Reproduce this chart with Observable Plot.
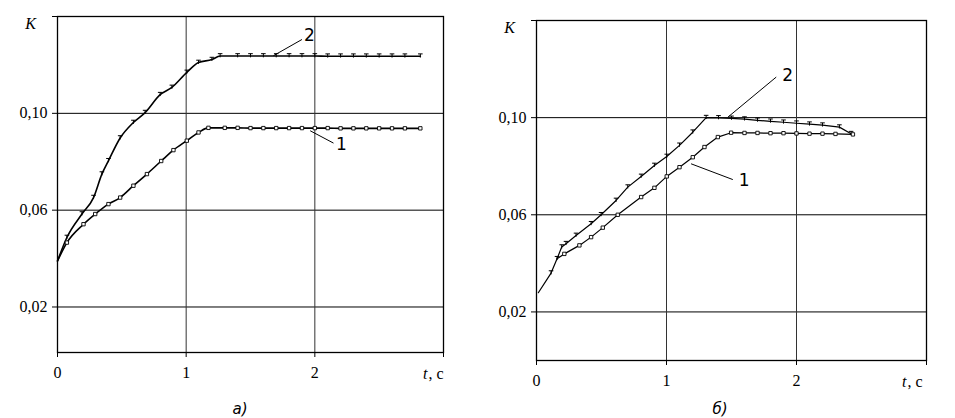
<!DOCTYPE html>
<html>
<head>
<meta charset="utf-8">
<script src="https://cdn.jsdelivr.net/npm/d3@7"></script>
<script src="https://cdn.jsdelivr.net/npm/@observablehq/plot@0.6"></script>
<style>
  body { margin: 0; background: #fff; }
  #wrap { position: relative; width: 955px; height: 418px; background: #fff; overflow: hidden; }
  .panel { position: absolute; top: 0; }
  .cap { position: absolute; top: 400px; font: italic 15px "DejaVu Sans", sans-serif; color: #000; transform: translateX(-50%); }
</style>
</head>
<body>
<div id="wrap">
  <div id="pa" class="panel" style="left:0px"></div>
  <div id="pb" class="panel" style="left:480px"></div>
  <div class="cap" style="left:240px">а)</div>
  <div class="cap" style="left:720px">б)</div>
</div>
<script>
// ---------- shared axis data ----------
const xTicks = [0, 1, 2, 3];
const xTickLabels = ["0", "1", "2", ""];
const yTicks = [0.02, 0.06, 0.10, 0.14];
const yTickLabels = ["0,02", "0,06", "0,10", ""];
const xGrid = [1, 2];
const yGrid = [0.02, 0.06, 0.10];
const yAxisTitle = "K";
const xAxisTitle = ["t", ", c"];

// ---------- panel a ----------
const tA2 = [0, 0.073, 0.19, 0.28, 0.345, 0.396, 0.487, 0.59, 0.681, 0.798, 0.889, 1.005, 1.096, 1.2, 1.264, 1.4, 1.5, 1.6, 1.7, 1.8, 1.9, 2.0, 2.1, 2.2, 2.3, 2.4, 2.5, 2.6, 2.7, 2.82];
const kA2 = [0.039, 0.0487, 0.0584, 0.0652, 0.0749, 0.0804, 0.0898, 0.0962, 0.1003, 0.1077, 0.1107, 0.1169, 0.121, 0.1222, 0.1237, 0.1237, 0.1237, 0.1237, 0.1237, 0.1237, 0.1237, 0.1237, 0.1236, 0.1236, 0.1236, 0.1236, 0.1236, 0.1236, 0.1236, 0.1236];
const tA1 = [0, 0.073, 0.202, 0.293, 0.396, 0.487, 0.59, 0.695, 0.806, 0.901, 1.005, 1.096, 1.173, 1.3, 1.4, 1.5, 1.6, 1.7, 1.8, 1.9, 2.0, 2.1, 2.2, 2.3, 2.4, 2.5, 2.6, 2.7, 2.82];
const kA1 = [0.039, 0.0466, 0.0542, 0.0584, 0.0625, 0.0652, 0.0701, 0.0749, 0.0803, 0.0848, 0.0887, 0.0921, 0.094, 0.094, 0.094, 0.0939, 0.0939, 0.0939, 0.0939, 0.0939, 0.0939, 0.0939, 0.0938, 0.0938, 0.0938, 0.0938, 0.0938, 0.0938, 0.0938];
const annLabA = ["2", "1"];
const annTxA = [1.915, 2.165];
const annTyA = [0.132, 0.0872];
const leadX1A = [1.678, 1.964];
const leadY1A = [0.1238, 0.0928];
const leadX2A = [1.90, 2.145];
const leadY2A = [0.1305, 0.0877];
const yDomainA = [0.0012, 0.14];

// ---------- panel б ----------
const tB2 = [0.014, 0.112, 0.158, 0.194, 0.227, 0.304, 0.42, 0.497, 0.612, 0.702, 0.805, 0.907, 1.002, 1.1, 1.202, 1.305, 1.4, 1.5, 1.6, 1.7, 1.8, 1.9, 2.0, 2.1, 2.2, 2.33, 2.42];
const kB2 = [0.0279, 0.036, 0.0419, 0.0467, 0.0481, 0.0515, 0.0563, 0.06, 0.0659, 0.0714, 0.0758, 0.0803, 0.084, 0.0886, 0.094, 0.1, 0.0999, 0.0997, 0.0994, 0.0989, 0.0985, 0.0981, 0.0977, 0.0973, 0.0969, 0.0961, 0.0934];
const tB1 = [0.158, 0.214, 0.33, 0.42, 0.51, 0.625, 0.805, 0.907, 1.002, 1.1, 1.202, 1.292, 1.395, 1.497, 1.6, 1.7, 1.8, 1.9, 2.0, 2.1, 2.2, 2.3, 2.434];
const kB1 = [0.0419, 0.0439, 0.0474, 0.0508, 0.0547, 0.06, 0.0673, 0.0711, 0.0758, 0.0796, 0.0837, 0.0879, 0.092, 0.0938, 0.0937, 0.0937, 0.0936, 0.0936, 0.0935, 0.0934, 0.0934, 0.0933, 0.0931];
const annLabB = ["2", "1"];
const annTxB = [1.89, 1.555];
const annTyB = [0.1174, 0.0741];
const leadX1B = [1.472, 1.189];
const leadY1B = [0.1002, 0.081];
const leadX2B = [1.844, 1.51];
const leadY2B = [0.1167, 0.0745];
const yDomainB = [0, 0.14];

// T-shaped marker
const tSymbol = {
  draw(ctx, size) {
    const r = Math.sqrt(size / Math.PI);
    ctx.moveTo(-r, -r); ctx.lineTo(r, -r);
    ctx.moveTo(0, -r); ctx.lineTo(0, r * 0.6);
  }
};

const SERIF = "'Liberation Serif', 'Times New Roman', serif";
const SANS = "'DejaVu Sans', sans-serif";

function zip(ts, ks) { return ts.map((t, i) => ({t, k: ks[i]})); }

function panel(o) {
  const c1 = zip(o.t1, o.k1), c2 = zip(o.t2, o.k2);
  const ann = o.lab.map((s, i) => ({s, x: o.tx[i], y: o.ty[i], x1: o.lx1[i], y1: o.ly1[i], x2: o.lx2[i], y2: o.ly2[i]}));
  return Plot.plot({
    width: o.width, height: 390,
    marginLeft: o.ml, marginRight: o.mr, marginTop: o.mt, marginBottom: 390 - o.bottom,
    style: {fontFamily: SERIF, fontSize: "16px", color: "#000", background: "#fff"},
    x: {type: "linear", domain: [0, 3]},
    y: {type: "linear", domain: o.yDomain},
    marks: [
      Plot.gridY(yGrid, {stroke: "#000", strokeOpacity: 1, strokeWidth: 1}),
      Plot.gridX(xGrid, {stroke: "#333", strokeOpacity: 1, strokeWidth: 1}),
      Plot.frame({stroke: "#000", strokeWidth: 1.3}),
      Plot.axisY({ticks: yTicks, tickFormat: (d) => yTickLabels[yTicks.indexOf(d)], tickSize: 5, tickPadding: 5, label: null, fontSize: 16, fontFamily: SERIF}),
      Plot.axisX({ticks: xTicks, tickFormat: (d) => xTickLabels[xTicks.indexOf(d)], tickSize: 5, tickPadding: 9, label: null, fontSize: 16, fontFamily: SERIF}),
      Plot.text([yAxisTitle], {x: () => 0, y: () => o.yDomain[1], text: (d) => d, dx: -27, dy: 7, fontStyle: "italic", fontSize: 16, fontFamily: SERIF}),
      Plot.text([xAxisTitle[1]], {x: () => 3, y: () => o.yDomain[0], text: (d) => d, dx: o.tdx, dy: 21, textAnchor: "end", fontSize: 16, fontFamily: SERIF}),
      Plot.text([xAxisTitle[0]], {x: () => 3, y: () => o.yDomain[0], text: (d) => d, dx: o.tdx - 16, dy: 21, textAnchor: "end", fontStyle: "italic", fontSize: 16, fontFamily: SERIF}),
      Plot.line(c2, {x: "t", y: "k", stroke: "#000", strokeWidth: o.sw, curve: o.curve}),
      Plot.line(c1, {x: "t", y: "k", stroke: "#000", strokeWidth: o.sw, curve: o.curve}),
      Plot.dot(c2.slice(1), {x: "t", y: "k", symbol: tSymbol, r: 2.3, stroke: "#000", strokeWidth: 1, fill: "none"}),
      Plot.dot(c1.slice(1), {x: "t", y: "k", symbol: "square", r: 1.9, stroke: "#000", strokeWidth: 0.9, fill: "#fff"}),
      Plot.link(ann, {x1: "x1", y1: "y1", x2: "x2", y2: "y2", stroke: "#000", strokeWidth: 1}),
      Plot.text(ann, {x: "x", y: "y", text: "s", textAnchor: "start", fontFamily: SANS, fontSize: 17})
    ]
  });
}

document.getElementById("pa").appendChild(panel({
  width: 470, ml: 57, mr: 27, mt: 16, bottom: 352, yDomain: yDomainA, sw: 1.6, tdx: 0, curve: "monotone-x",
  t1: tA1, k1: kA1, t2: tA2, k2: kA2,
  lab: annLabA, tx: annTxA, ty: annTyA, lx1: leadX1A, ly1: leadY1A, lx2: leadX2A, ly2: leadY2A
}));
document.getElementById("pb").appendChild(panel({
  width: 475, ml: 56, mr: 29, mt: 20, bottom: 360, yDomain: yDomainB, sw: 1.2, tdx: -4, curve: "linear",
  t1: tB1, k1: kB1, t2: tB2, k2: kB2,
  lab: annLabB, tx: annTxB, ty: annTyB, lx1: leadX1B, ly1: leadY1B, lx2: leadX2B, ly2: leadY2B
}));
</script>
</body>
</html>
